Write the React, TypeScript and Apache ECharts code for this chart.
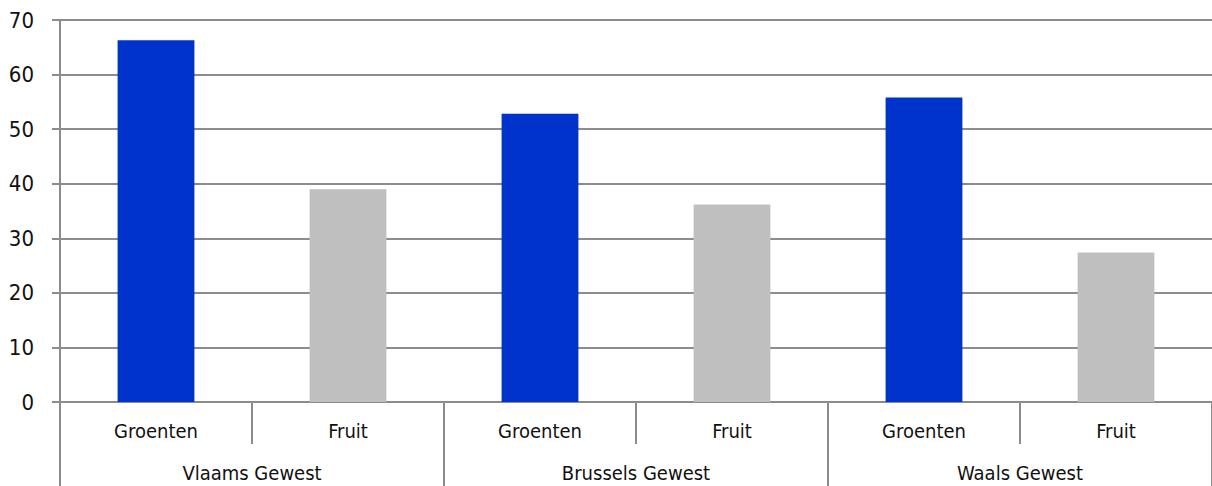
import React, { useEffect, useRef } from "react";
import * as echarts from "echarts";

// Regions (outer category level) and the two products shown per region
const regions = ["Vlaams Gewest", "Brussels Gewest", "Waals Gewest"];
const products = ["Groenten", "Fruit"];

// Percentages per region
const groenten = [66.3, 52.8, 55.8];
const fruit = [39.0, 36.2, 27.4];

const yTicks = { min: 0, max: 70, interval: 10 };

const productColors = ["#0033CC", "#BFBFBF"];
const gridColor = "#8C8C8C";
const font = "'DejaVu Sans Condensed', 'DejaVu Sans', sans-serif";

export default function App() {
  const ref = useRef<HTMLDivElement>(null);

  useEffect(() => {
    document.body.style.margin = "0";
    if (!ref.current) return;
    const chart = echarts.init(ref.current, undefined, { renderer: "svg" });

    const innerCats: string[] = [];
    const values: { value: number; itemStyle: { color: string } }[] = [];
    regions.forEach((_, i) => {
      const pair = [groenten[i], fruit[i]];
      products.forEach((p, j) => {
        innerCats.push(p);
        values.push({ value: pair[j], itemStyle: { color: productColors[j] } });
      });
    });

    chart.setOption({
      animation: false,
      backgroundColor: "#ffffff",
      grid: { left: 60, right: 0, top: 20, bottom: 84, containLabel: false },
      xAxis: [
        {
          type: "category",
          data: innerCats,
          position: "bottom",
          axisLine: { show: true, lineStyle: { color: gridColor, width: 2 } },
          axisTick: { show: true, length: 42, lineStyle: { color: gridColor, width: 2 } },
          axisLabel: { color: "#111", fontFamily: font, fontSize: 20, margin: 19 },
        },
        {
          type: "category",
          data: regions,
          position: "bottom",
          axisLine: { show: false },
          axisTick: { show: true, length: 86, lineStyle: { color: gridColor, width: 2 } },
          axisLabel: { color: "#111", fontFamily: font, fontSize: 20, margin: 61 },
        },
      ],
      yAxis: {
        type: "value",
        min: yTicks.min,
        max: yTicks.max,
        interval: yTicks.interval,
        axisLine: { show: true, lineStyle: { color: gridColor, width: 2 } },
        axisTick: { show: true, length: 8, lineStyle: { color: gridColor, width: 2 } },
        axisLabel: { color: "#111", fontFamily: font, fontSize: 22, margin: 26 },
        splitLine: { show: true, lineStyle: { color: gridColor, width: 2 } },
      },
      series: [
        {
          type: "bar",
          xAxisIndex: 0,
          data: values,
          barWidth: "40%",
        },
      ],
    });

    return () => chart.dispose();
  }, []);

  return <div ref={ref} style={{ width: 1212, height: 486 }} />;
}
